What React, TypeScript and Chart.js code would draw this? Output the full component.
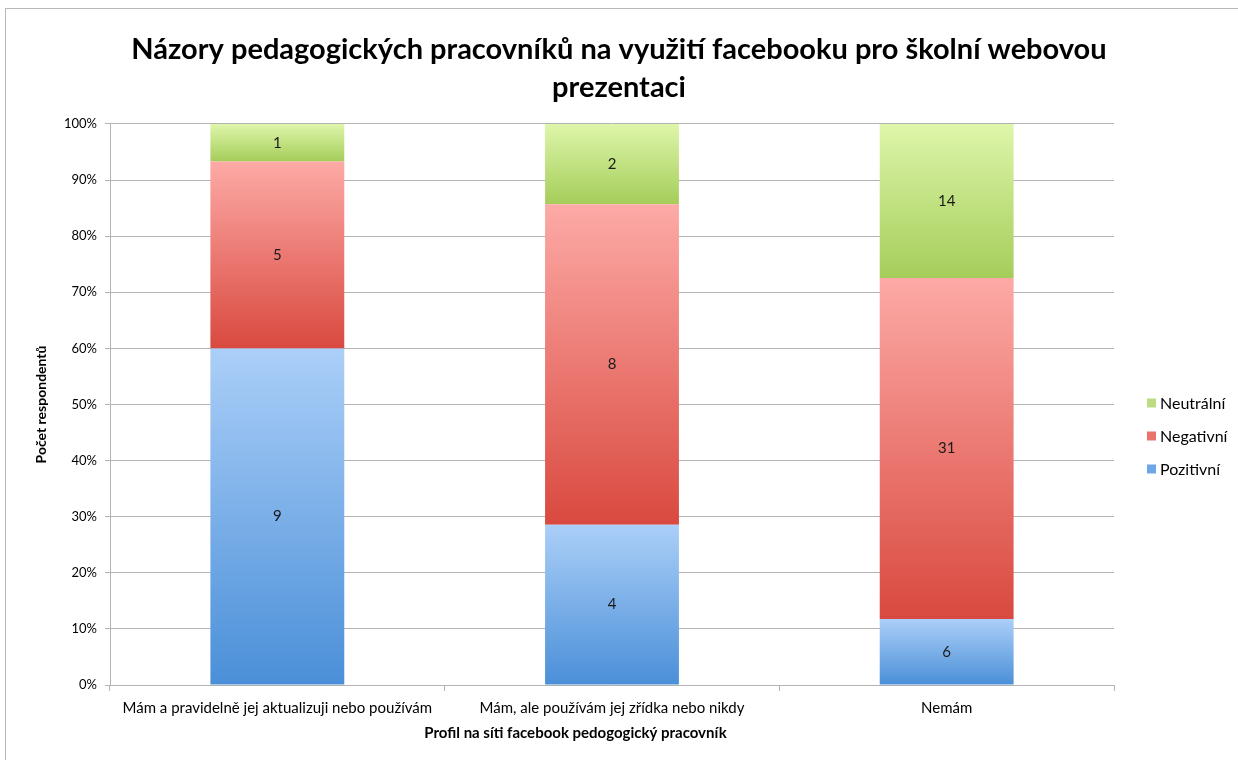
import React, { useEffect, useRef } from "react";
import { Chart, registerables } from "chart.js";

Chart.register(...registerables);

const categories = [
  "Mám a pravidelně jej aktualizuji nebo používám",
  "Mám, ale používám jej zřídka nebo nikdy",
  "Nemám",
];
const seriesNames = ["Pozitivní", "Negativní", "Neutrální"];
const pozitivni = [9, 4, 6];
const negativni = [5, 8, 31];
const neutralni = [1, 2, 14];
const yTicks = [0, 10, 20, 30, 40, 50, 60, 70, 80, 90, 100];

const titleLines = [
  "Názory pedagogických pracovníků na využití facebooku pro školní webovou",
  "prezentaci",
];
const xTitle = "Profil na síti facebook pedogogický pracovník";
const yTitle = "Počet respondentů";

const gradDark = ["#4a8fd8", "#d9493f", "#a5cd5a"];
const gradLight = ["#abcff8", "#fdaaa6", "#def6aa"];
const legendColors = ["#6ea6e8", "#e9736c", "#bcdc82"];

const FONT = "Lato, 'Open Sans', 'DejaVu Sans', sans-serif";

export default function App() {
  const ref = useRef<HTMLCanvasElement | null>(null);

  useEffect(() => {
    document.body.style.margin = "0";
    const counts = [pozitivni, negativni, neutralni];
    const totals = categories.map((_, i) => counts.reduce((s, arr) => s + arr[i], 0));
    const pcts = counts.map((arr) => arr.map((v, i) => (v / totals[i]) * 100));

    const makeBg = (di: number) => (ctx: any) => {
      const chart = ctx.chart;
      const y = chart.scales?.y;
      if (!chart.chartArea || !y || ctx.dataIndex === undefined) return legendColors[di];
      const i = ctx.dataIndex;
      let bottom = 0;
      for (let k = 0; k < di; k++) bottom += pcts[k][i];
      const top = bottom + pcts[di][i];
      const yb = y.getPixelForValue(bottom);
      const yt = y.getPixelForValue(top);
      if (!isFinite(yb) || !isFinite(yt) || yb === yt) return legendColors[di];
      const g = chart.ctx.createLinearGradient(0, yb, 0, yt);
      g.addColorStop(0, gradDark[di]);
      g.addColorStop(1, gradLight[di]);
      return g;
    };

    const labelPlugin = {
      id: "segLabels",
      afterDatasetsDraw(chart: any) {
        const c = chart.ctx;
        c.save();
        c.font = `15px ${FONT}`;
        c.fillStyle = "#1a1a1a";
        c.textAlign = "center";
        c.textBaseline = "middle";
        chart.data.datasets.forEach((ds: any, di: number) => {
          const meta = chart.getDatasetMeta(di);
          meta.data.forEach((el: any, i: number) => {
            const mid = (el.y + el.base) / 2;
            c.fillText(String(counts[di][i]), el.x, mid);
          });
        });
        c.restore();
      },
    };

    const extrasPlugin = {
      id: "extras",
      afterDraw(chart: any) {
        const c = chart.ctx;
        const area = chart.chartArea;
        c.save();
        c.font = `bold 15px ${FONT}`;
        c.fillStyle = "#000";
        c.textAlign = "center";
        c.textBaseline = "middle";
        const legendLeft = area.right + 32;
        c.fillText(xTitle, (5 + legendLeft) / 2, 733);
        c.font = `16px ${FONT}`;
        c.textAlign = "left";
        const cy = (area.top + area.bottom) / 2 - 1;
        const order = [2, 1, 0];
        order.forEach((di, k) => {
          const y = cy + k * 33;
          c.fillStyle = legendColors[di];
          c.fillRect(legendLeft + 1, y - 5, 9, 9);
          c.fillStyle = "#000";
          c.fillText(seriesNames[di], legendLeft + 14, y);
        });
        c.restore();
      },
    };

    const grid = "#b3b3b3";
    const chart = new Chart(ref.current as HTMLCanvasElement, {
      type: "bar",
      data: {
        labels: categories,
        datasets: seriesNames.map((name, di) => ({
          label: name,
          data: pcts[di],
          backgroundColor: makeBg(di),
          borderWidth: 0,
          categoryPercentage: 1,
          barPercentage: 0.4,
          yAxisID: "y",
        })),
      },
      options: {
        animation: false,
        responsive: false,
        maintainAspectRatio: false,
        layout: { padding: { left: 0, right: 0, top: 0, bottom: 35 } },
        plugins: {
          title: {
            display: true,
            text: titleLines,
            font: { family: FONT, size: 29, weight: "bold", lineHeight: 1.31 },
            color: "#000",
            padding: { top: 31, bottom: 17 },
          },
          legend: { display: false },
          tooltip: { enabled: false },
        },
        scales: {
          x: {
            stacked: true,
            grid: {
              offset: true,
              drawOnChartArea: false,
              drawTicks: true,
              tickLength: 6,
              color: grid,
            },
            border: { color: grid },
            ticks: {
              color: "#000",
              font: { family: FONT, size: 15 },
              padding: 8,
              maxRotation: 0,
              autoSkip: false,
            },
          },
          y: {
            stacked: true,
            min: 0,
            max: 100,
            afterBuildTicks: (axis: any) => {
              axis.ticks = yTicks.map((v) => ({ value: v }));
            },
            afterFit: (axis: any) => {
              axis.width = 110;
            },
            grid: { color: grid, tickLength: 5 },
            border: { color: grid },
            ticks: {
              color: "#000",
              font: { family: FONT, size: 13 },
              padding: 8,
              callback: (v: any) => v + "%",
            },
            title: {
              display: true,
              text: yTitle,
              color: "#000",
              font: { family: FONT, size: 14, weight: "bold" },
              padding: { top: 33, bottom: 10 },
            },
          },
          legendSpace: {
            position: "right",
            min: 0,
            max: 100,
            afterFit: (axis: any) => {
              axis.width = 124;
            },
            grid: { display: false, drawOnChartArea: false },
            border: { display: false },
            ticks: { display: false },
          },
        },
      },
      plugins: [labelPlugin, extrasPlugin],
    });
    return () => chart.destroy();
  }, []);

  return (
    <div style={{ position: "relative", width: 1238, height: 760, background: "#fff", overflow: "hidden" }}>
      <div
        style={{
          position: "absolute",
          left: 5,
          top: 8,
          width: 1240,
          height: 760,
          borderTop: "1px solid #b8b8b8",
          borderLeft: "1px solid #b8b8b8",
          pointerEvents: "none",
        }}
      />
      <canvas ref={ref} width={1238} height={760} style={{ display: "block" }} />
    </div>
  );
}
